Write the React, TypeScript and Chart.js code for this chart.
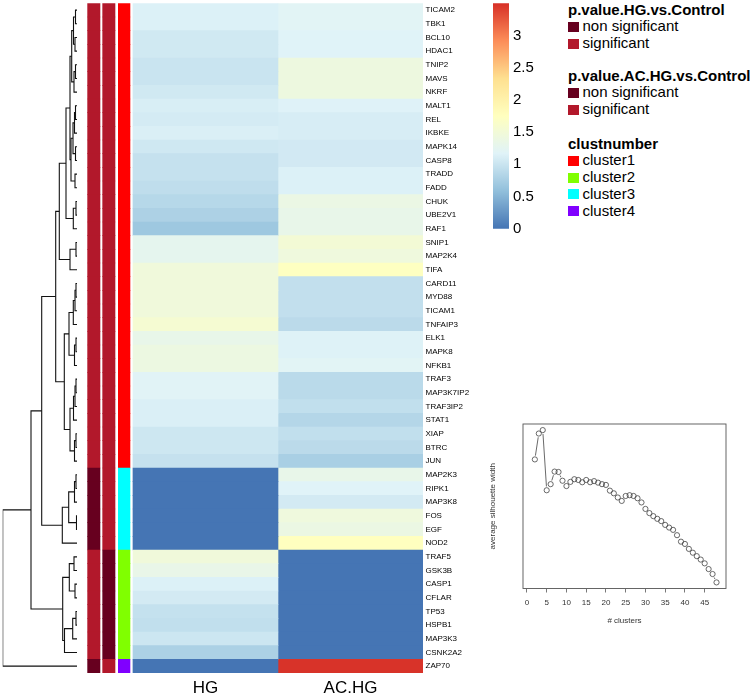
import React, { useEffect, useRef } from 'react';
import { Chart, registerables } from 'chart.js';

Chart.register(...registerables);

const FONT = '"Liberation Sans", Arial, Helvetica, sans-serif';
Chart.defaults.font.family = FONT;

// ---------------- data ----------------
const genes = ['TICAM2', 'TBK1', 'BCL10', 'HDAC1', 'TNIP2', 'MAVS', 'NKRF', 'MALT1', 'REL', 'IKBKE', 'MAPK14', 'CASP8', 'TRADD', 'FADD', 'CHUK', 'UBE2V1', 'RAF1', 'SNIP1', 'MAP2K4', 'TIFA', 'CARD11', 'MYD88', 'TICAM1', 'TNFAIP3', 'ELK1', 'MAPK8', 'NFKB1', 'TRAF3', 'MAP3K7IP2', 'TRAF3IP2', 'STAT1', 'XIAP', 'BTRC', 'JUN', 'MAP2K3', 'RIPK1', 'MAP3K8', 'FOS', 'EGF', 'NOD2', 'TRAF5', 'GSK3B', 'CASP1', 'CFLAR', 'TP53', 'HSPB1', 'MAP3K3', 'CSNK2A2', 'ZAP70'];

const columnLabels = ['HG', 'AC.HG'];

const hgValues = [1.14, 1.14, 1.05, 1.05, 1.0, 1.0, 1.05, 1.11, 1.08, 1.12, 1.04, 0.97, 0.97, 0.92, 0.86, 0.79, 0.68, 1.27, 1.27, 1.46, 1.46, 1.46, 1.46, 1.56, 1.32, 1.4, 1.4, 1.19, 1.19, 1.12, 1.12, 1.03, 1.03, 0.97, 0, 0, 0, 0, 0, 0, 1.47, 1.33, 1.14, 1.07, 0.96, 0.94, 1.02, 0.78, 0];

const acHgValues = [1.2, 1.2, 1.17, 1.17, 1.42, 1.42, 1.42, 1.16, 1.1, 1.1, 1.06, 1.06, 1.14, 1.14, 1.37, 1.32, 1.32, 1.52, 1.44, 1.73, 0.945, 0.945, 0.945, 0.89, 1.15, 1.15, 1.2, 0.886, 0.886, 0.94, 0.845, 0.94, 0.89, 0.76, 1.32, 1.17, 1.07, 1.44, 1.38, 1.75, 0, 0, 0, 0, 0, 0, 0, 0, 3.48];

const S = 'significant';
const N = 'non significant';
const pValueHG = [S, S, S, S, S, S, S, S, S, S, S, S, S, S, S, S, S, S, S, S, S, S, S, S, S, S, S, S, S, S, S, S, S, S, N, N, N, N, N, N, S, S, S, S, S, S, S, S, N];
const pValueACHG = [S, S, S, S, S, S, S, S, S, S, S, S, S, S, S, S, S, S, S, S, S, S, S, S, S, S, S, S, S, S, S, S, S, S, S, S, S, S, S, S, N, N, N, N, N, N, N, N, S];
const clustNumber = [1, 1, 1, 1, 1, 1, 1, 1, 1, 1, 1, 1, 1, 1, 1, 1, 1, 1, 1, 1, 1, 1, 1, 1, 1, 1, 1, 1, 1, 1, 1, 1, 1, 1, 3, 3, 3, 3, 3, 3, 2, 2, 2, 2, 2, 2, 2, 2, 4];

// dendrogram merges (hclust style: negative = leaf -(row+1), positive = earlier merge number)
const mergeLeft = [-1, -3, 1, -5, 4, 3, -8, 7, -11, 8, -13, 10, 6, -15, 14, 13, -18, 17, 16, -21, 20, 21, -25, 23, 22, -28, 26, 27, -32, 29, 28, 25, 19, -35, 34, -38, 35, 37, 33, -41, -43, 40, -45, 43, 44, 42, 39, 47];
const mergeRight = [-2, -4, 2, -6, -7, 5, -9, -10, -12, 9, -14, 11, 12, -16, -17, 15, -19, -20, 18, -22, -23, -24, -26, -27, 24, -29, -30, -31, -33, -34, 30, 31, 32, -36, -37, -39, 36, -40, 38, -42, -44, 41, -46, -47, -48, 45, 46, -49];
const mergeHeight = [0.15, 0.2, 0.35, 0.15, 0.3, 0.53, 0.15, 0.25, 0.15, 0.4, 0.2, 0.6, 0.7, 0.1, 0.37, 1.1, 0.1, 0.7, 1.77, 0.1, 0.2, 0.37, 0.1, 0.25, 0.8, 0.1, 0.2, 0.35, 0.1, 0.25, 0.7, 1.27, 2.13, 0.1, 0.25, 0.05, 0.83, 1.47, 3.53, 0.3, 0.2, 0.77, 0.1, 0.43, 1.25, 1.43, 4.6, 7.43];

const colorBarTicks = [0, 0.5, 1, 1.5, 2, 2.5, 3];
const colorMax = 3.5;

const clusterCounts = [2, 3, 4, 5, 6, 7, 8, 9, 10, 11, 12, 13, 14, 15, 16, 17, 18, 19, 20, 21, 22, 23, 24, 25, 26, 27, 28, 29, 30, 31, 32, 33, 34, 35, 36, 37, 38, 39, 40, 41, 42, 43, 44, 45, 46, 47, 48];
const silhouetteWidth = [0.423, 0.491, 0.5, 0.342, 0.358, 0.391, 0.39, 0.367, 0.353, 0.364, 0.371, 0.369, 0.363, 0.369, 0.363, 0.366, 0.362, 0.358, 0.356, 0.341, 0.334, 0.323, 0.314, 0.327, 0.329, 0.327, 0.321, 0.31, 0.293, 0.282, 0.274, 0.267, 0.261, 0.251, 0.244, 0.238, 0.224, 0.207, 0.201, 0.188, 0.178, 0.169, 0.16, 0.15, 0.135, 0.122, 0.1];
const silhouetteXTicks = [0, 5, 10, 15, 20, 25, 30, 35, 40, 45];

// ---------------- styles ----------------
const palette = ['#4575B4', '#91BFDB', '#E0F3F8', '#FFFFBF', '#FEE090', '#FC8D59', '#D73027'];
const pColors: Record<string, string> = { 'non significant': '#67001F', significant: '#B2182B' };
const clusterColors = ['#FF0000', '#80FF00', '#00FFFF', '#8000FF'];

function hexToRgb(h: string) {
  const n = parseInt(h.slice(1), 16);
  return [(n >> 16) & 255, (n >> 8) & 255, n & 255];
}
function colorFor(v: number) {
  const t = Math.max(0, Math.min(1, v / colorMax)) * (palette.length - 1);
  const i = Math.min(palette.length - 2, Math.floor(t));
  const f = t - i;
  const a = hexToRgb(palette[i]);
  const b = hexToRgb(palette[i + 1]);
  const c = a.map((x, k) => Math.round(x + (b[k] - x) * f));
  return `rgb(${c[0]},${c[1]},${c[2]})`;
}

// x-units of the heatmap chart: HG column = [0,1], AC.HG column = [1,2]
const trackRanges = [[-0.315, -0.2276], [-0.209, -0.124], [-0.101, -0.0207]];

function rowBars(x0: number, x1: number) {
  return genes.map((_, i) => ({ y: i, x: [x0, x1] }));
}

function barDataset(x0: number, x1: number, colors: string[]) {
  return {
    type: 'bar',
    indexAxis: 'y',
    grouped: false,
    data: rowBars(x0, x1),
    backgroundColor: colors,
    borderWidth: 0,
    barPercentage: 1,
    categoryPercentage: 1,
  };
}

const noGrid = { display: false, drawTicks: false, tickLength: 0 };

function heatmapConfig(): any {
  const datasets = [
    barDataset(trackRanges[0][0], trackRanges[0][1], pValueHG.map((p) => pColors[p])),
    barDataset(trackRanges[1][0], trackRanges[1][1], pValueACHG.map((p) => pColors[p])),
    barDataset(trackRanges[2][0], trackRanges[2][1], clustNumber.map((c) => clusterColors[c - 1])),
    barDataset(0, 1, hgValues.map(colorFor)),
    barDataset(1, 2, acHgValues.map(colorFor)),
  ];
  return {
    type: 'bar',
    data: { datasets },
    options: {
      indexAxis: 'y',
      responsive: false,
      animation: false,
      events: [],
      layout: { padding: { left: 3.3, top: 3.3, right: 0, bottom: 0 } },
      plugins: { legend: { display: false }, tooltip: { enabled: false } },
      scales: {
        x: {
          type: 'linear',
          min: trackRanges[0][0],
          max: 2,
          offset: false,
          position: 'bottom',
          grid: noGrid,
          border: { display: false },
          afterBuildTicks: (s: any) => {
            s.ticks = columnLabels.map((_, i) => ({ value: i + 0.5 }));
          },
          ticks: {
            callback: (_v: any, i: number) => columnLabels[i],
            font: { size: 17 },
            color: '#000',
            padding: 4.8,
            maxRotation: 0,
            autoSkip: false,
          },
          afterFit: (s: any) => {
            s.height = 26;
            s.paddingLeft = 0;
            s.paddingRight = 0;
          },
        },
        y: {
          type: 'linear',
          min: -0.5,
          max: genes.length - 0.5,
          reverse: true,
          offset: false,
          position: 'right',
          grid: noGrid,
          border: { display: false },
          afterBuildTicks: (s: any) => {
            s.ticks = genes.map((_, i) => ({ value: i }));
          },
          ticks: {
            callback: (v: any) => genes[v],
            autoSkip: false,
            font: { size: 8 },
            color: '#000',
            padding: 2.5,
          },
          afterFit: (s: any) => {
            s.width = 57;
            s.paddingTop = 0;
            s.paddingBottom = 0;
          },
        },
      },
    },
  };
}

function dendrogramConfig(): any {
  const nodeY: number[] = [];
  const nodeH: number[] = [];
  const pos = (c: number) => (c < 0 ? { y: -c - 1, h: 0 } : { y: nodeY[c - 1], h: nodeH[c - 1] });
  const datasets = mergeLeft.map((l, m) => {
    const a = pos(l);
    const b = pos(mergeRight[m]);
    const h = mergeHeight[m];
    nodeY[m] = (a.y + b.y) / 2;
    nodeH[m] = h;
    return {
      data: [
        { x: a.h, y: a.y },
        { x: h, y: a.y },
        { x: h, y: b.y },
        { x: b.h, y: b.y },
      ],
      showLine: true,
      borderColor: '#111',
      borderWidth: 1.1,
      pointRadius: 0,
      tension: 0,
    };
  });
  return {
    type: 'scatter',
    data: { datasets },
    options: {
      responsive: false,
      animation: false,
      events: [],
      layout: { padding: { left: 2.7, right: 3, top: 3.3, bottom: 26 } },
      plugins: { legend: { display: false }, tooltip: { enabled: false } },
      scales: {
        x: { type: 'linear', reverse: true, min: 0, max: Math.max(...mergeHeight), display: false },
        y: { type: 'linear', reverse: true, min: -0.5, max: genes.length - 0.5, display: false },
      },
    },
  };
}

function colorBarConfig(): any {
  return {
    type: 'bar',
    data: {
      labels: ['value'],
      datasets: [
        {
          data: [[0, colorMax]],
          barPercentage: 1,
          categoryPercentage: 1,
          borderWidth: 0,
          backgroundColor: (ctx: any) => {
            const chart = ctx.chart;
            const y = chart.scales.y;
            if (!chart.chartArea || !y) return palette[0];
            const g = chart.ctx.createLinearGradient(0, y.getPixelForValue(0), 0, y.getPixelForValue(colorMax));
            palette.forEach((c, i) => g.addColorStop(i / (palette.length - 1), c));
            return g;
          },
        },
      ],
    },
    options: {
      responsive: false,
      animation: false,
      events: [],
      layout: { padding: { left: 0, right: 0, top: 3.3, bottom: 11.3 } },
      plugins: { legend: { display: false }, tooltip: { enabled: false } },
      scales: {
        x: { display: false },
        y: {
          type: 'linear',
          min: 0,
          max: colorMax,
          position: 'right',
          grid: noGrid,
          border: { display: false },
          afterBuildTicks: (s: any) => {
            s.ticks = colorBarTicks.map((v) => ({ value: v }));
          },
          ticks: { callback: (v: any) => String(v), font: { size: 15 }, color: '#000', padding: 4, autoSkip: false },
          afterFit: (s: any) => {
            s.width = 44;
            s.paddingTop = 0;
            s.paddingBottom = 0;
          },
        },
      },
    },
  };
}

const typeBPlugin = {
  id: 'typeB',
  afterDatasetsDraw(chart: any) {
    const { ctx, chartArea } = chart;
    const meta = chart.getDatasetMeta(0);
    const pts = meta.data;
    const gap = 3.8;
    ctx.save();
    ctx.strokeStyle = '#444';
    ctx.lineWidth = 0.8;
    ctx.beginPath();
    for (let i = 0; i < pts.length - 1; i++) {
      const p0 = pts[i];
      const p1 = pts[i + 1];
      const dx = p1.x - p0.x;
      const dy = p1.y - p0.y;
      const d = Math.hypot(dx, dy);
      if (d <= 2 * gap) continue;
      const ux = dx / d;
      const uy = dy / d;
      ctx.moveTo(p0.x + ux * gap, p0.y + uy * gap);
      ctx.lineTo(p1.x - ux * gap, p1.y - uy * gap);
    }
    ctx.stroke();
    ctx.strokeStyle = '#555';
    ctx.lineWidth = 0.9;
    ctx.strokeRect(chartArea.left, chartArea.top, chartArea.right - chartArea.left, chartArea.bottom - chartArea.top);
    ctx.restore();
  },
};

function silhouetteConfig(): any {
  return {
    type: 'scatter',
    data: {
      datasets: [
        {
          data: clusterCounts.map((k, i) => ({ x: k, y: silhouetteWidth[i] })),
          showLine: false,
          pointRadius: 2.6,
          pointBorderWidth: 0.8,
          pointBorderColor: '#444',
          pointBackgroundColor: 'rgba(0,0,0,0)',
        },
      ],
    },
    plugins: [typeBPlugin],
    options: {
      responsive: false,
      animation: false,
      events: [],
      layout: { padding: { left: 4.2, right: 27, top: 14, bottom: 9.5 } },
      plugins: { legend: { display: false }, tooltip: { enabled: false } },
      scales: {
        x: {
          type: 'linear',
          min: -1,
          max: 50.4,
          grid: { display: true, drawOnChartArea: false, drawTicks: true, tickLength: 4, color: '#555', lineWidth: 0.8 },
          border: { display: false },
          afterBuildTicks: (s: any) => {
            s.ticks = silhouetteXTicks.map((v) => ({ value: v }));
          },
          ticks: { font: { size: 8 }, color: '#333', padding: 5, maxRotation: 0, autoSkip: false },
          title: { display: true, text: '# clusters', font: { size: 8 }, color: '#333', padding: { top: 0, bottom: 5 } },
          afterFit: (s: any) => {
            s.height = 42;
            s.paddingLeft = 0;
            s.paddingRight = 0;
          },
        },
        y: {
          type: 'linear',
          min: 0.084,
          max: 0.516,
          grid: noGrid,
          border: { display: false },
          ticks: { display: false },
          title: { display: true, text: 'average silhouette width', font: { size: 8 }, color: '#333', padding: { top: 4, bottom: 0 } },
          afterFit: (s: any) => {
            s.width = 38.8;
            s.paddingTop = 0;
            s.paddingBottom = 0;
          },
        },
      },
    },
  };
}

// ---------------- components ----------------
function ChartCanvas({ make, left, top, width, height }: { make: () => any; left: number; top: number; width: number; height: number }) {
  const ref = useRef<HTMLCanvasElement | null>(null);
  useEffect(() => {
    const chart = new Chart(ref.current as HTMLCanvasElement, make());
    return () => chart.destroy();
  }, []);
  return (
    <canvas
      ref={ref}
      width={width}
      height={height}
      style={{ position: 'absolute', left, top, width, height, display: 'block' }}
    />
  );
}

const legendGroups = [
  { title: 'p.value.HG.vs.Control', top: 1.6, items: [N, S].map((l) => ({ label: l, color: pColors[l] })) },
  { title: 'p.value.AC.HG.vs.Control', top: 67.6, items: [N, S].map((l) => ({ label: l, color: pColors[l] })) },
  { title: 'clustnumber', top: 135.6, items: clusterColors.map((c, i) => ({ label: `cluster${i + 1}`, color: c })) },
];

function AnnotationLegend() {
  const lh = 16.8;
  return (
    <div style={{ position: 'absolute', left: 568, top: 0, fontFamily: FONT, color: '#000' }}>
      {legendGroups.map((g) => (
        <div key={g.title} style={{ position: 'absolute', left: 0, top: g.top, whiteSpace: 'nowrap' }}>
          <div style={{ height: lh, lineHeight: `${lh}px`, fontSize: 15, fontWeight: 'bold' }}>{g.title}</div>
          {g.items.map((it) => (
            <div key={it.label} style={{ height: lh, lineHeight: `${lh}px`, fontSize: 15, display: 'flex', alignItems: 'center' }}>
              <span style={{ display: 'inline-block', width: 11, height: 10, background: it.color, marginRight: 3.5 }} />
              <span>{it.label}</span>
            </div>
          ))}
        </div>
      ))}
    </div>
  );
}

export default function App() {
  useEffect(() => {
    document.body.style.margin = '0';
    document.body.style.background = '#fff';
  }, []);
  return (
    <div style={{ position: 'absolute', left: 0, top: 0, width: 753, height: 699, background: '#fff', overflow: 'hidden' }}>
      <ChartCanvas make={dendrogramConfig} left={0} top={0} width={80} height={699} />
      <ChartCanvas make={heatmapConfig} left={84} top={0} width={396} height={699} />
      <ChartCanvas make={colorBarConfig} left={493} top={0} width={60} height={240} />
      <AnnotationLegend />
      <ChartCanvas make={silhouetteConfig} left={480} top={410} width={273} height={230} />
    </div>
  );
}
